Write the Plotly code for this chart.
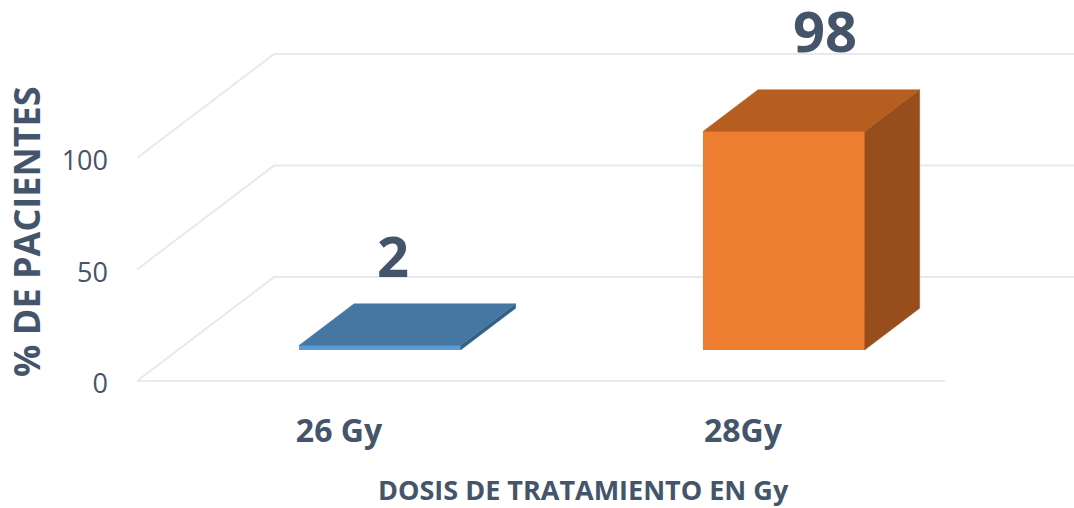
import plotly.graph_objects as go

categories = ["26 Gy", "28Gy"]
values = [2, 98]
y_ticks = [0, 50, 100]

FRONT = ["#5B9BD5", "#ED7D31"]
TOP = ["#4676A2", "#B55E20"]
SIDE = ["#365F86", "#984E1C"]
TEXT = "#44546A"
GRID = "#E7E9EE"
FONT = "Open Sans"

# oblique projection: full floor depth, in axis units
DX, DY = 0.339, 46.6
BAR_W = 0.40
GAP_D, BAR_D = 0.30, 0.40
XR = [-0.5, 1.8195]
YR = [-13.0, 170.85]

W, H = 1074, 508
L, B_EDGE = 137, 410  # plot area edges in page pixels


def paper_x(px):
    return (px - L) / (W - L)


def paper_y(py):
    return (B_EDGE - py) / B_EDGE


fig = go.Figure()

# walls and floor gridlines
gx, gy = [], []
for t in y_ticks:
    gx += [-0.5, -0.5 + DX, 1.5 + DX, None]
    gy += [t, t + DY, t + DY, None]
gx += [-0.5, 1.5]
gy += [0, 0]
fig.add_trace(go.Scatter(x=gx, y=gy, mode="lines", line=dict(color=GRID, width=2),
                         hoverinfo="skip", showlegend=False))

# front faces
bx = [i + GAP_D * DX for i in range(len(values))]
base = GAP_D * DY
fig.add_trace(go.Bar(x=bx, y=values, base=base, width=BAR_W, marker=dict(color=FRONT, line=dict(width=0)),
                     xaxis="x2", yaxis="y2", showlegend=False, hoverinfo="y"))

# top and side faces
ddx, ddy = BAR_D * DX, BAR_D * DY
for i, v in enumerate(values):
    l, r = bx[i] - BAR_W / 2, bx[i] + BAR_W / 2
    b, t = base, base + v
    fig.add_trace(go.Scatter(x=[r, r + ddx, r + ddx, r, r], y=[b, b + ddy, t + ddy, t, b],
                             mode="lines", fill="toself", fillcolor=SIDE[i], line=dict(color=SIDE[i], width=0.5),
                             xaxis="x2", yaxis="y2", showlegend=False, hoverinfo="skip"))
    fig.add_trace(go.Scatter(x=[l, r, r + ddx, l + ddx, l], y=[t, t, t + ddy, t + ddy, t],
                             mode="lines", fill="toself", fillcolor=TOP[i], line=dict(color=TOP[i], width=0.5),
                             xaxis="x2", yaxis="y2", showlegend=False, hoverinfo="skip"))

# data labels
label_shift = [(13, 50), (41, 61)]
annotations = []
for i, v in enumerate(values):
    annotations.append(dict(x=bx[i], y=base + v, xref="x", yref="y", text=f"<b>{v}</b>", showarrow=False,
                            xanchor="center", yanchor="bottom", yshift=label_shift[i][1],
                            xshift=label_shift[i][0],
                            font=dict(family=FONT, size=56, color=TEXT)))
annotations.append(dict(x=paper_x(583), y=paper_y(489), xref="paper", yref="paper",
                        text="<b>DOSIS DE TRATAMIENTO EN Gy</b>", xanchor="center", yanchor="middle",
                        showarrow=False, font=dict(family=FONT, size=27, color=TEXT)))
annotations.append(dict(x=paper_x(26), y=paper_y(232), xref="paper", yref="paper",
                        text="<b>% DE PACIENTES</b>", textangle=-90, xanchor="center", yanchor="middle",
                        showarrow=False, font=dict(family=FONT, size=36, color=TEXT)))

fig.update_layout(
    width=W, height=H, margin=dict(l=L, r=0, t=0, b=H - B_EDGE),
    paper_bgcolor="white", plot_bgcolor="white", showlegend=False,
    bargap=0, annotations=annotations,
    xaxis=dict(range=XR, tickmode="array", tickvals=list(range(len(categories))), ticktext=[f"<b>{c}</b>" for c in categories],
               showgrid=False, zeroline=False, showline=False, ticks="", ticklabelstandoff=-1,
               tickfont=dict(family=FONT, size=32, color=TEXT)),
    yaxis=dict(range=YR, tickmode="array", tickvals=y_ticks, showgrid=False, zeroline=False, showline=False,
               ticks="", ticklabelstandoff=28, ticklabelshift=3, tickfont=dict(family=FONT, size=27, color=TEXT)),
    xaxis2=dict(range=XR, overlaying="x", visible=False),
    yaxis2=dict(range=YR, overlaying="y", visible=False),
)
fig.write_html("out.html", config=dict(displayModeBar=False),
               post_script="document.body.style.margin='0';")
